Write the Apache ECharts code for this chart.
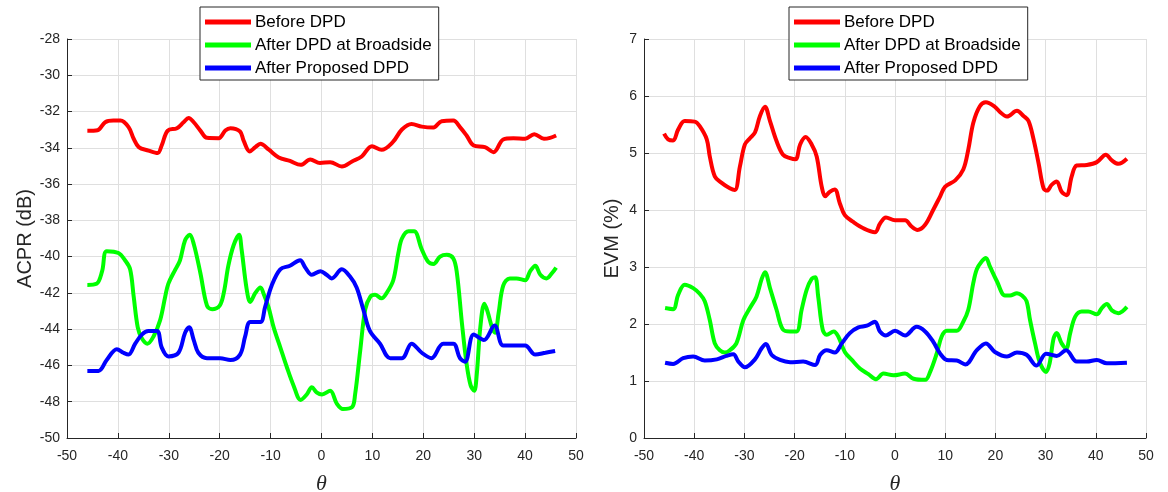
<!DOCTYPE html>
<html><head><meta charset="utf-8">
<script src="https://cdn.jsdelivr.net/npm/echarts@6/dist/echarts.min.js"></script>
<style>html,body{margin:0;padding:0;background:#fff}#c{width:1168px;height:492px}</style>
</head><body><div id="c"></div>
<script>
const seriesNames = ['Before DPD', 'After DPD at Broadside', 'After Proposed DPD'];
const xTicks = [-50, 50, 10];

// ACPR (dB) — left panel
const acprBeforeTheta = [-46,-44,-42.5,-40.9,-39.5,-37.9,-36.9,-35.9,-34,-32.2,-31.4,-30.2,-28.4,-27.1,-26.1,-25.1,-23.8,-22.5,-20.2,-18.9,-17.9,-16,-15.3,-14.1,-13,-12,-10.4,-8.4,-6.2,-4.1,-2.2,-0.3,1.7,4,6,7.9,9.9,11.8,14,15.8,17.7,19.7,22,23.6,25.9,27.2,28.5,29.9,32.1,33.8,35.7,37.7,40,41.8,43.7,44.9,46.1];
const acprBefore = [-33.06,-33.03,-32.59,-32.5,-32.5,-32.86,-33.5,-33.96,-34.15,-34.29,-33.87,-33.05,-32.92,-32.59,-32.35,-32.59,-33.05,-33.45,-33.47,-33.05,-32.92,-33.1,-33.6,-34.2,-33.96,-33.78,-34.09,-34.53,-34.72,-34.94,-34.64,-34.84,-34.79,-35.03,-34.75,-34.48,-33.91,-34.11,-33.69,-32.99,-32.68,-32.83,-32.88,-32.53,-32.5,-32.86,-33.32,-33.87,-33.96,-34.24,-33.54,-33.47,-33.5,-33.25,-33.5,-33.45,-33.32];
const acprBroadTheta = [-46,-44.2,-43.1,-42.2,-39.9,-38.6,-37.6,-36.9,-36.1,-35.3,-34.2,-33,-31.7,-30.7,-30.1,-28.7,-27.8,-26.8,-25.9,-25.1,-23.8,-22.5,-21.5,-20,-19.2,-18.3,-17.3,-16.2,-15.7,-14.7,-14,-13,-12,-11.3,-10.4,-9.4,-8.1,-6.8,-5.5,-4.1,-2.9,-1.9,-0.9,0.1,1.7,3,4.2,6,6.6,7.6,8.6,9.6,10.5,11.8,12.8,14.1,15.1,15.8,17.1,18.2,19.7,21,22,23.3,24.6,25.9,26.6,27.6,28.5,29.3,30,30.5,31.2,32,32.6,33.5,34.1,34.8,35.7,37,38.3,40,41,42,43,44.2,45.3,46.1];
const acprBroad = [-41.56,-41.5,-40.8,-39.7,-39.8,-40.2,-40.7,-42.2,-43.9,-44.5,-44.8,-44.4,-43.5,-42.2,-41.5,-40.7,-40.2,-39.1,-38.8,-39.3,-40.9,-42.7,-42.9,-42.7,-42,-40.5,-39.4,-38.8,-39.6,-41.8,-42.5,-42,-41.7,-42.1,-42.8,-43.9,-45,-46.1,-47.1,-47.9,-47.6,-47.2,-47.5,-47.6,-47.4,-48.1,-48.4,-48.3,-47.6,-45.2,-42.9,-42.2,-42.1,-42.3,-42,-41.3,-39.8,-39,-38.6,-38.6,-39.6,-40.3,-40.4,-40,-39.9,-40.1,-40.9,-43.7,-45.9,-47.1,-47.4,-46.5,-43.9,-42.6,-43,-43.9,-44.2,-43.1,-41.6,-41.2,-41.2,-41.3,-40.8,-40.5,-41,-41.2,-40.9,-40.6];
const acprPropTheta = [-46,-43.8,-42.2,-40.2,-38.9,-37.9,-36.6,-35.3,-34,-32.3,-31.4,-30.1,-28.1,-26.8,-26,-25.1,-24.2,-22.5,-19.9,-17.9,-16,-15,-14,-12,-11.1,-9.8,-8.1,-6.2,-4.2,-3.2,-1.9,-0.2,1,2,4,5.6,6.9,8.2,9.5,11.5,13.5,15.8,17.7,19.7,21.6,23.9,25.9,27.2,28.2,29.9,31.9,34,35.7,38.3,40,42,44,45.9];
const acprProp = [-46.3,-46.3,-45.7,-45.1,-45.3,-45.4,-44.8,-44.3,-44.1,-44.1,-45,-45.5,-45.3,-44.2,-43.9,-44.6,-45.3,-45.6,-45.6,-45.7,-45.4,-44.4,-43.6,-43.6,-42.8,-41.6,-40.7,-40.5,-40.2,-40.6,-41,-40.8,-41,-41.2,-40.7,-41.1,-41.7,-42.9,-44.1,-44.8,-45.6,-45.6,-44.8,-45.3,-45.6,-44.8,-44.8,-45.6,-45.8,-44.3,-44.6,-43.8,-44.9,-44.9,-44.9,-45.4,-45.3,-45.2];

// EVM (%) — right panel
const evmBeforeTheta = [-46,-45.2,-44.2,-43.2,-41.9,-39.9,-38.9,-37.5,-36.9,-35.9,-34.6,-32.9,-31.9,-30.9,-29.9,-28.9,-27.9,-26.9,-25.9,-24.9,-23.6,-22.3,-20.9,-19.8,-18.9,-17.8,-16.6,-15.6,-14.6,-13.9,-13,-12,-11,-10,-8.3,-6.3,-4,-3,-1.8,0,2,3.3,4.5,6,7.6,9,10,12,13.6,14.6,15.6,16.9,18.1,19.9,20.9,22.3,24.3,25.6,26.6,27.6,28.6,29.6,30.3,31.2,32.2,33.2,34.2,35.2,36.2,38.2,40.2,42,43.2,44.5,46.2];
const evmBefore = [5.34,5.24,5.22,5.41,5.56,5.55,5.47,5.24,4.94,4.59,4.48,4.38,4.35,4.76,5.15,5.26,5.36,5.65,5.81,5.56,5.21,4.97,4.91,4.89,5.15,5.28,5.15,4.94,4.41,4.24,4.32,4.36,4.12,3.91,3.79,3.68,3.61,3.76,3.87,3.82,3.82,3.71,3.65,3.74,4.0,4.24,4.41,4.52,4.71,5.06,5.53,5.82,5.89,5.81,5.72,5.64,5.74,5.65,5.56,5.24,4.82,4.38,4.34,4.44,4.5,4.32,4.26,4.59,4.78,4.79,4.84,4.97,4.87,4.81,4.9];
const evmBroadTheta = [-45.8,-44.2,-43.2,-41.9,-40.2,-38.9,-37.9,-36.9,-35.9,-34.9,-33.9,-32.9,-31.6,-30.2,-28.9,-27.6,-26.6,-25.9,-24.9,-23.6,-22.3,-20.9,-19.6,-18.6,-17.6,-16.6,-15.9,-15.3,-14.4,-13.6,-12.2,-11.3,-10,-8.6,-7,-5.3,-3.8,-2.3,-0.3,2,3.7,6,7,8.3,9.3,10.3,12.3,13.6,14.6,15.6,16.3,17.3,18.1,18.9,20.3,21.9,22.9,24.3,25.3,26.2,26.9,27.9,28.9,30.1,30.8,31.6,32.2,33.2,34.1,34.9,35.9,37.2,38.5,40.2,41.2,42.2,43.2,44.5,46.2];
const evmBroad = [2.28,2.26,2.51,2.69,2.63,2.53,2.4,2.07,1.66,1.54,1.5,1.54,1.66,2.07,2.28,2.48,2.78,2.91,2.63,2.25,1.9,1.87,1.87,2.25,2.6,2.79,2.82,2.48,1.9,1.81,1.87,1.78,1.51,1.37,1.22,1.12,1.03,1.13,1.1,1.13,1.04,1.02,1.16,1.48,1.78,1.88,1.88,2.04,2.25,2.72,2.96,3.1,3.16,3.01,2.75,2.5,2.5,2.54,2.5,2.4,2.07,1.66,1.31,1.16,1.31,1.75,1.84,1.66,1.57,1.84,2.13,2.22,2.22,2.17,2.28,2.35,2.24,2.19,2.3];
const evmPropTheta = [-45.8,-44.2,-42.2,-40.2,-37.9,-35.5,-33.6,-32.2,-31.2,-29.9,-27.9,-26.6,-25.7,-24.6,-22.9,-20.9,-18.3,-15.9,-14.9,-13.6,-12,-10.6,-9,-7.3,-5.6,-4,-3,-1.8,0,2,4.3,6,7.6,9,10.3,12.3,14,16.3,18.1,19.9,22.3,24.3,26.2,28.2,30.1,32.2,34.1,36.2,38.2,40.2,42.2,46.2];
const evmProp = [1.32,1.3,1.4,1.43,1.36,1.38,1.44,1.47,1.34,1.24,1.38,1.57,1.65,1.46,1.37,1.33,1.34,1.28,1.46,1.54,1.5,1.66,1.84,1.94,1.97,2.04,1.87,1.8,1.88,1.8,1.95,1.87,1.69,1.48,1.37,1.36,1.29,1.54,1.66,1.51,1.43,1.5,1.46,1.27,1.48,1.44,1.54,1.34,1.34,1.37,1.31,1.32];

const colors = ['#ff0000', '#00ff00', '#0000ff'];
const pairs = (xs, ys) => xs.map((x, i) => [x, ys[i]]);

const FONT = '"Liberation Sans", Arial, sans-serif';
const AX = '#262626';

function xAxis(gi) {
  return {
    type: 'value', gridIndex: gi, min: xTicks[0], max: xTicks[1], interval: xTicks[2],
    name: 'θ', nameLocation: 'middle', nameGap: 35,
    nameTextStyle: { fontFamily: '"Liberation Serif", "DejaVu Serif", serif', fontStyle: 'italic', fontSize: 22, color: AX },
    axisLine: { show: true, onZero: false, lineStyle: { color: AX, width: 1 } },
    axisTick: { show: true, inside: true, length: 5, lineStyle: { color: AX } },
    axisLabel: { color: AX, fontSize: 14, fontFamily: FONT, margin: 11 },
    splitLine: { show: true, lineStyle: { color: '#dfdfdf', width: 1 } }
  };
}
function yAxis(gi, min, max, interval, name, gap) {
  return {
    type: 'value', gridIndex: gi, min, max, interval,
    name, nameLocation: 'middle', nameGap: gap, nameRotate: 90,
    nameTextStyle: { fontFamily: FONT, fontSize: 20, color: AX },
    axisLine: { show: true, onZero: false, lineStyle: { color: AX, width: 1 } },
    axisTick: { show: true, inside: true, length: 5, lineStyle: { color: AX } },
    axisLabel: { color: AX, fontSize: 14, fontFamily: FONT, margin: 7 },
    splitLine: { show: true, lineStyle: { color: '#dfdfdf', width: 1 } }
  };
}
function line(name, data, gi, ci) {
  return {
    name, type: 'line', xAxisIndex: gi, yAxisIndex: gi, data,
    showSymbol: false, smooth: 0.35, lineStyle: { width: 4, color: colors[ci] }, itemStyle: { color: colors[ci] },
    z: 2 + ci, animation: false
  };
}
function legend(left) {
  return {
    left, top: 7, orient: 'vertical', data: seriesNames,
    icon: 'rect', itemWidth: 46, itemHeight: 5, itemGap: 3,
    padding: [5, 7, 2, 5], borderColor: AX, borderWidth: 1, backgroundColor: '#fff',
    textStyle: { fontFamily: FONT, fontSize: 17, color: '#000', lineHeight: 20, padding: [0, 0, 0, -1] },
    selectedMode: false, z: 10
  };
}

const chart = echarts.init(document.getElementById('c'), null, { renderer: 'canvas' });
chart.setOption({
  animation: false,
  backgroundColor: '#fff',
  grid: [
    { left: 67, right: 592, top: 39, bottom: 54, containLabel: false, outerBoundsMode: 'none' },
    { left: 644, right: 22, top: 39, bottom: 54, containLabel: false, outerBoundsMode: 'none' }
  ],
  xAxis: [xAxis(0), xAxis(1)],
  yAxis: [yAxis(0, -50, -28, 2, 'ACPR (dB)', 32), yAxis(1, 0, 7, 1, 'EVM (%)', 22)],
  legend: [legend(200), legend(789)],
  series: [
    line(seriesNames[0], pairs(acprBeforeTheta, acprBefore), 0, 0),
    line(seriesNames[1], pairs(acprBroadTheta, acprBroad), 0, 1),
    line(seriesNames[2], pairs(acprPropTheta, acprProp), 0, 2),
    line(seriesNames[0], pairs(evmBeforeTheta, evmBefore), 1, 0),
    line(seriesNames[1], pairs(evmBroadTheta, evmBroad), 1, 1),
    line(seriesNames[2], pairs(evmPropTheta, evmProp), 1, 2)
  ]
});
</script></body></html>
